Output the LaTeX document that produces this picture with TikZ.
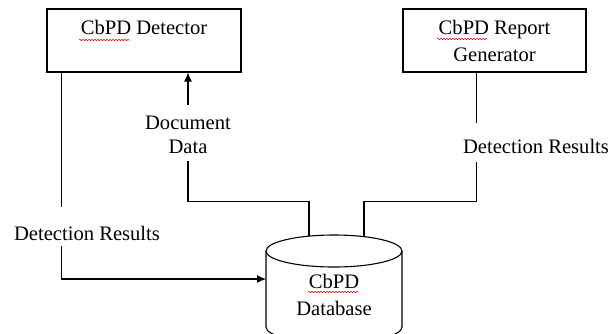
\documentclass[tikz,border=0pt]{standalone}
\usepackage{fontspec}
\setmainfont{Liberation Serif}
\usetikzlibrary{arrows.meta,positioning,decorations.pathmorphing}

\begin{document}
\begin{tikzpicture}[x=1pt, y=-1pt, line width=1.1pt,
  box/.style={draw, minimum height=63pt, align=center},
  lbl/.style={align=center, inner sep=0pt},
  arr/.style={-{Latex[length=9pt,width=8pt]}},
  typo/.style={red, line width=0.5pt, decorate,
    decoration={snake, amplitude=0.8pt, segment length=3pt}}]

  \fontsize{20.6}{27}\selectfont
  \useasboundingbox (0,0) rectangle (609,333);

  % the two boxes on top
  \node[box, minimum width=194pt] (det) at (144,40.5) {CbPD Detector\\ ~};
  \node[box, minimum width=183pt] (rep) at (494.5,40.5) {CbPD Report\\Generator};

  % labels on the lines
  \node[lbl, anchor=north, font=\fontsize{20.6}{24}\selectfont] (ddata) at (188,112) {\strut Document\\Data\strut};
  \node[lbl, anchor=base] (lres) at (87,240) {\strut Detection Results};
  \node[lbl, anchor=base] (rres) at (536,153) {\strut Detection Results};

  % database
  \coordinate (dbtop) at (334,251);
  \coordinate (dbin) at (266,279);
  \coordinate (dbl) at (309,236);
  \coordinate (dbr) at (364,236);
  \draw[fill=white] (266,251) -- (266,327) arc[start angle=180, end angle=0, x radius=68, y radius=16]
    -- (402,251);
  \draw (dbtop) ellipse[x radius=68, y radius=16];
  \node[lbl, anchor=north] (db) at (334,269) {\strut CbPD\\Database};

  % gaps around the labels
  \coordinate (lresN) at ([yshift=14pt]lres.north);
  \coordinate (lresS) at ([yshift=3pt]lres.south);
  \coordinate (ddataN) at ([yshift=7pt]ddata.north);
  \coordinate (rresN) at ([yshift=11pt]rres.north);

  % connectors
  \coordinate (lx) at ([xshift=15pt]det.south west);
  \draw (lx) -- (lx |- lresN);
  \draw[arr] (lx |- lresS) |- (dbin);

  \draw[arr] (ddataN) -- (ddataN |- det.south);
  \draw (ddata.south) -- ++(0,40) -| (dbl);

  \coordinate (rx) at ([xshift=-18pt]rep.south);
  \draw (rx) -- (rx |- rresN);
  \draw (rx |- rres.south) -- ++(0,40) -| (dbr);

  % spell-check marks under CbPD
  \draw[typo] (79,40) -- (130,40);
  \draw[typo] (437,39) -- (487,39);
  \draw[typo] (308,292) -- (359,292);
\end{tikzpicture}
\end{document}
